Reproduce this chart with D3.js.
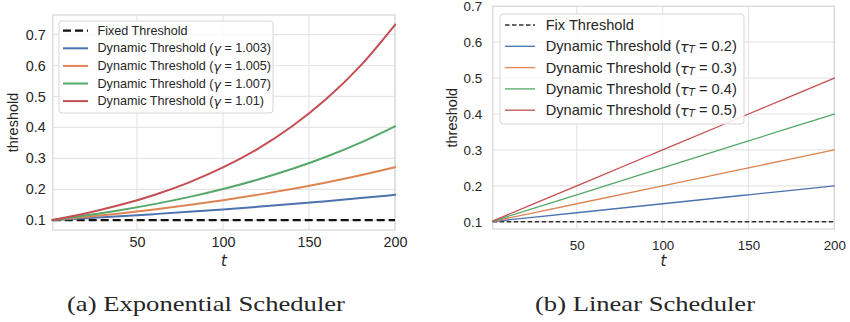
<!DOCTYPE html>
<html><head><meta charset="utf-8">
<script src="https://cdn.jsdelivr.net/npm/d3@7"></script>
<style>
body{margin:0;background:#fff;}
text{font-family:"Liberation Sans",Arial,sans-serif;fill:#262626;}
</style></head>
<body><svg id="c" width="850" height="322"></svg>
<script>
// ---- data (a) Exponential scheduler ----
const expT = [1, 20, 40, 60, 80, 100, 120, 140, 160, 180, 200];
const expFixed = [0.1, 0.1, 0.1, 0.1, 0.1, 0.1, 0.1, 0.1, 0.1, 0.1, 0.1];
const expG1003 = [0.1003, 0.1062, 0.1127, 0.1197, 0.1271, 0.1349, 0.1433, 0.1521, 0.1615, 0.1715, 0.1820];
const expG1005 = [0.1005, 0.1105, 0.1221, 0.1349, 0.1490, 0.1647, 0.1819, 0.2010, 0.2221, 0.2454, 0.2711];
const expG1007 = [0.1007, 0.1150, 0.1322, 0.1520, 0.1747, 0.2009, 0.2310, 0.2655, 0.3053, 0.3510, 0.4036];
const expG1010 = [0.1010, 0.1220, 0.1489, 0.1817, 0.2217, 0.2705, 0.3300, 0.4027, 0.4914, 0.5996, 0.7316];
const expLabels = ["1.003", "1.005", "1.007", "1.01"];
// ---- data (b) Linear scheduler ----
const linT = [1, 50, 100, 150, 200];
const linFixed = [0.1, 0.1, 0.1, 0.1, 0.1];
const linT02 = [0.1005, 0.125, 0.15, 0.175, 0.2];
const linT03 = [0.101, 0.15, 0.2, 0.25, 0.3];
const linT04 = [0.1015, 0.175, 0.25, 0.325, 0.4];
const linT05 = [0.102, 0.2, 0.3, 0.4, 0.5];
const linLabels = ["0.2", "0.3", "0.4", "0.5"];
// ticks
const xTicks = [50, 100, 150, 200];
const yTicks = [0.1, 0.2, 0.3, 0.4, 0.5, 0.6, 0.7];
const colors = ["#4c72b0", "#dd8452", "#55a868", "#c44e52"];

const svg = d3.select("#c");

function panel(o){
  const g = svg.append("g");
  const x = d3.scaleLinear().domain([1,200]).range([o.left,o.right]);
  const y = d3.scaleLinear().domain(o.ydom).range([o.bottom,o.top]);
  // grid
  g.selectAll(".gx").data(xTicks).join("line")
    .attr("x1",d=>x(d)).attr("x2",d=>x(d)).attr("y1",o.top).attr("y2",o.bottom)
    .attr("stroke","#e5e5e5").attr("stroke-width",1.2);
  g.selectAll(".gy").data(yTicks).join("line")
    .attr("x1",o.left).attr("x2",o.right).attr("y1",d=>y(d)).attr("y2",d=>y(d))
    .attr("stroke","#e5e5e5").attr("stroke-width",1.2);
  // frame
  g.append("rect").attr("x",o.left).attr("y",o.top).attr("width",o.right-o.left).attr("height",o.bottom-o.top)
    .attr("fill","none").attr("stroke","#dcdcdc").attr("stroke-width",1.4);
  // axes (labels only)
  const ax = g.append("g").attr("transform",`translate(0,${o.bottom})`)
    .call(d3.axisBottom(x).tickValues(xTicks).tickSize(0).tickPadding(o.xpad).tickFormat(d3.format("d")));
  ax.select(".domain").remove();
  ax.selectAll("text").style("font-size",o.tfs+"px").attr("fill","#262626");
  const ay = g.append("g").attr("transform",`translate(${o.left},0)`)
    .call(d3.axisLeft(y).tickValues(yTicks).tickSize(0).tickPadding(o.ypad).tickFormat(d3.format(".1f")));
  ay.select(".domain").remove();
  ay.selectAll("text").style("font-size",o.tfs+"px").attr("fill","#262626");
  // lines
  const line = d3.line().x((d,i)=>x(o.t[i])).y(d=>y(d)).curve(d3.curveMonotoneX);
  g.append("path").attr("d",line(o.fixed)).attr("fill","none").attr("stroke",o.dashColor)
    .attr("stroke-width",o.dashW).attr("stroke-dasharray",o.dash);
  o.series.forEach((s,i)=>{
    g.append("path").attr("d",line(s)).attr("fill","none").attr("stroke",colors[i])
      .attr("stroke-width",o.lw).attr("stroke-linecap","square");
  });
  // axis labels
  g.append("text").attr("x",(o.left+o.right)/2).attr("y",266).attr("text-anchor","middle")
    .style("font-size","15px").style("font-style","italic").style("font-family","DejaVu Sans").text("t");
  g.append("text").attr("transform",`translate(${o.ylabX},${(o.top+o.bottom)/2}) rotate(-90)`)
    .attr("text-anchor","middle").attr("dominant-baseline","central").style("font-size",o.ylfs+"px").text("threshold");
  // legend
  const L = o.legend;
  g.append("rect").attr("x",L.x).attr("y",L.y).attr("width",L.w).attr("height",L.h).attr("rx",3)
    .attr("fill","#fff").attr("fill-opacity",0.85).attr("stroke","#d6d6d6").attr("stroke-width",1);
  const items = [{c:o.dashColor,dash:o.dash,w:o.dashW,label:o.fixedLabel}]
    .concat(o.labels.map((l,i)=>({c:colors[i],dash:null,w:o.lw,label:l})));
  items.forEach((it,i)=>{
    const yy = L.y0 + i*L.dy;
    g.append("line").attr("x1",L.lx1).attr("x2",L.lx2).attr("y1",yy).attr("y2",yy)
      .attr("stroke",it.c).attr("stroke-width",it.w).attr("stroke-dasharray",it.dash);
    const t = g.append("text").attr("x",L.tx).attr("y",yy).attr("dominant-baseline","central")
      .style("font-size",L.fs+"px");
    if(i===0){ t.text(it.label); }
    else o.labelFn(t,it.label);
  });
  // caption
  g.append("text").attr("x",o.capX).attr("y",311).attr("text-anchor","middle")
    .attr("textLength",o.capW).attr("lengthAdjust","spacingAndGlyphs")
    .style("font-family","'Liberation Serif',serif").style("font-size","22px")
    .attr("fill","#111").text(o.caption);
}

panel({left:52.7,right:395,top:15,bottom:230,ydom:[0.0684,0.7632],t:expT,fixed:expFixed,
  series:[expG1003,expG1005,expG1007,expG1010],lw:2,dashW:2.2,dash:"8,4",dashColor:"#111",
  tfs:14.4,xpad:7,ypad:7,ylabX:13,ylfs:14.5,
  fixedLabel:"Fixed Threshold",labels:expLabels,
  labelFn:(t,l)=>{t.append("tspan").text("Dynamic Threshold (");
    t.append("tspan").style("font-style","italic").style("font-family","DejaVu Sans").text("γ");
    t.append("tspan").text(" = "+l+")");},
  legend:{x:59,y:21,w:214,h:92,y0:30.7,dy:17.6,lx1:63,lx2:88,tx:97.5,fs:12.6},
  caption:"(a) Exponential Scheduler",capX:206,capW:278});

panel({left:492.7,right:834.3,top:6.3,bottom:229,ydom:[0.0797,0.7],t:linT,fixed:linFixed,
  series:[linT02,linT03,linT04,linT05],lw:1.3,dashW:1.4,dash:"4.5,2.5",dashColor:"#333",
  tfs:13.4,xpad:11,ypad:10.5,ylabX:452,ylfs:14.5,
  fixedLabel:"Fix Threshold",labels:linLabels,
  labelFn:(t,l)=>{t.append("tspan").text("Dynamic Threshold (");
    t.append("tspan").style("font-style","italic").style("font-family","DejaVu Sans").text("τ");
    t.append("tspan").style("font-style","italic").style("font-family","DejaVu Sans").style("font-size","10px").attr("dy",3).text("T");
    t.append("tspan").attr("dy",-3).text(" = "+l+")");},
  legend:{x:500,y:14,w:244,h:110,y0:25,dy:21.3,lx1:505,lx2:535,tx:545.7,fs:14.6},
  caption:"(b) Linear Scheduler",capX:645,capW:220});
</script></body></html>
